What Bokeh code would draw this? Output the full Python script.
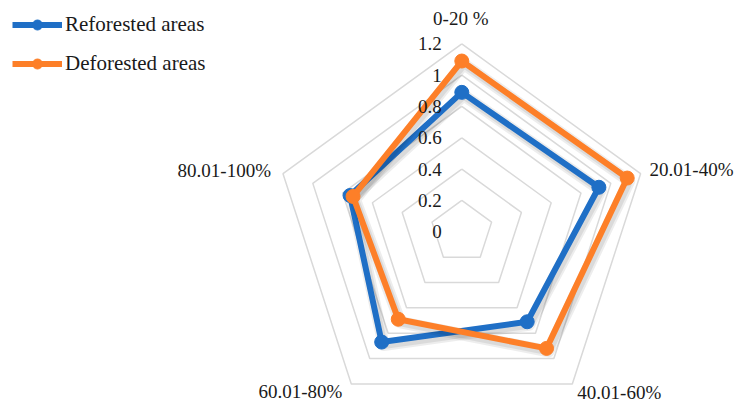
import numpy as np
from bokeh.plotting import figure
from bokeh.models import Range1d, Legend, LegendItem, ColumnDataSource
from bokeh.core.properties import value
from bokeh.embed import file_html
from bokeh.resources import INLINE

# ---- data ----
categories = ["0-20 %", "20.01-40%", "40.01-60%", "60.01-80%", "80.01-100%"]
reforested = [0.89, 0.92, 0.71, 0.87, 0.75]
deforested = [1.09, 1.11, 0.92, 0.69, 0.73]
ring_values = [0.2, 0.4, 0.6, 0.8, 1.0, 1.2]
tick_values = [0, 0.2, 0.4, 0.6, 0.8, 1.0, 1.2]
tick_labels = ["0", "0.2", "0.4", "0.6", "0.8", "1", "1.2"]

# ---- layout ----
W, H = 734, 403
R_PX = 188.0            # pixel radius of the outer ring
R_MAX = 1.2
S = R_PX / R_MAX        # pixels per value unit
CX, CY = 461.3, 231.3   # centre in frame pixels (from top-left)
FONT = "Liberation Serif"
BLUE = "#1f6fc6"
ORANGE = "#fd7f28"
GRID = "#d9d9d9"

n = len(categories)
theta = np.pi / 2 - 2 * np.pi * np.arange(n) / n


def polar(vals):
    vals = np.asarray(vals, dtype=float)
    return vals * np.cos(theta), vals * np.sin(theta)


p = figure(width=W, height=H, output_backend="svg", toolbar_location=None,
           x_range=Range1d(-CX / S, (W - CX) / S),
           y_range=Range1d(-(H - CY) / S, CY / S),
           min_border=0)
p.axis.visible = False
p.grid.visible = False
p.outline_line_color = None
p.background_fill_color = "white"
p.border_fill_color = "white"

# rings
for rv in ring_values:
    x, y = polar([rv] * n)
    p.line(list(x) + [x[0]], list(y) + [y[0]], line_color=GRID, line_width=1.5)

# series
renderers = []
for vals, col in [(reforested, BLUE), (deforested, ORANGE)]:
    x, y = polar(vals)
    xs = list(x) + [x[0]]
    ys = list(y) + [y[0]]
    dx, dy = 2.0 / S, -3.0 / S
    p.line([v + dx for v in xs], [v + dy for v in ys], line_color="black",
           line_alpha=0.07, line_width=12, line_join="round")
    p.line([v + dx for v in xs], [v + dy for v in ys], line_color="black",
           line_alpha=0.08, line_width=8, line_join="round")
    ln = p.line(xs, ys, line_color=col, line_width=6, line_join="round")
    mk = p.scatter(list(x), list(y), size=14, fill_color=col, line_color=col)
    renderers.append((ln, mk))

# tick labels
tsrc = ColumnDataSource(dict(x=[0.0] * len(tick_values), y=tick_values, t=tick_labels))
p.text("x", "y", text="t", source=tsrc, x_offset=-20, text_align="right",
       text_baseline="middle", text_font=value(FONT), text_font_size="19px",
       text_color="#1a1a1a")

# category labels
cx, cy = polar([R_MAX] * n)
aligns = ["center", "left", "left", "right", "right"]
baselines = ["bottom", "middle", "top", "top", "middle"]
xoffs = [-1, 9, 5, -9, -12]
yoffs = [-15, -4, -2, -3, -3]
csrc = ColumnDataSource(dict(x=list(cx), y=list(cy), t=categories, a=aligns,
                             b=baselines, xo=xoffs, yo=yoffs))
p.text("x", "y", text="t", source=csrc, text_align="a", text_baseline="b",
       x_offset="xo", y_offset="yo", text_font=value(FONT),
       text_font_size="19px", text_color="#1a1a1a")

legend = Legend(items=[
    LegendItem(label="Reforested areas", renderers=list(renderers[0])),
    LegendItem(label="Deforested areas", renderers=list(renderers[1])),
], location="top_left")
legend.margin = 12
legend.padding = 4
legend.glyph_width = 50
legend.glyph_height = 25
legend.label_height = 25
legend.spacing = 14
legend.label_standoff = 3
legend.border_line_color = None
legend.background_fill_alpha = 0
legend.label_text_font = FONT
legend.label_text_font_size = "21px"
legend.label_text_color = "#1a1a1a"
p.add_layout(legend)

open("out.html", "w").write(file_html(p, INLINE))
